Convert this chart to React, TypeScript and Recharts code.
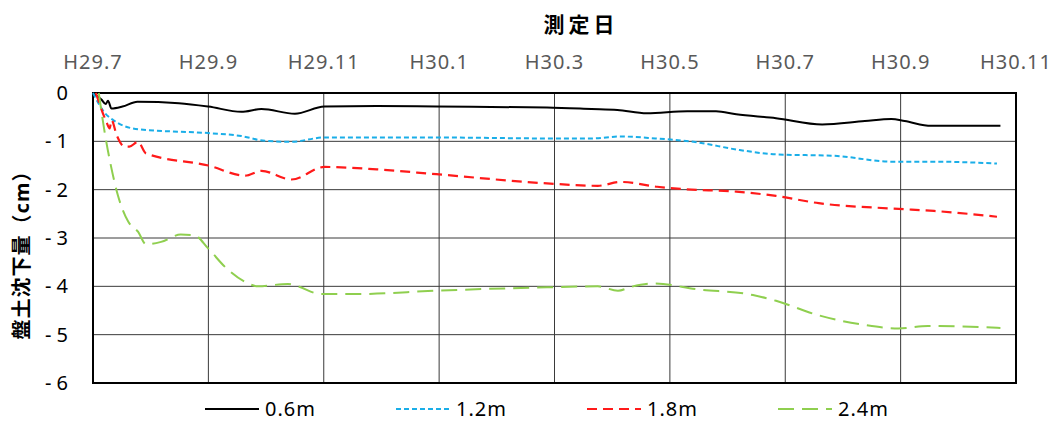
import { LineChart, Line, XAxis, YAxis, CartesianGrid, Legend, ReferenceArea } from 'recharts'

// x軸: H29.7 からの経過月数
const tickMonths = [0, 2, 4, 6, 8, 10, 12, 14, 16]
const tickLabels = ['H29.7', 'H29.9', 'H29.11', 'H30.1', 'H30.3', 'H30.5', 'H30.7', 'H30.9', 'H30.11']
const yTicks = [0, -1, -2, -3, -4, -5, -6]

// 0.6m
const months06 = [0, 0.15, 0.22, 0.26, 0.32, 0.51, 0.77, 1.49, 2.0, 2.57, 2.92, 3.5, 4.01, 4.92, 5.95, 7.87, 8.64, 9.09, 9.6, 10.3, 10.8, 11.15, 11.84, 12.64, 13.38, 13.84, 14.07, 14.53, 15.21, 15.73]
const values06 = [0, -0.14, -0.23, -0.16, -0.32, -0.28, -0.18, -0.21, -0.28, -0.39, -0.33, -0.43, -0.28, -0.27, -0.28, -0.3, -0.33, -0.35, -0.42, -0.38, -0.38, -0.44, -0.52, -0.65, -0.58, -0.54, -0.58, -0.68, -0.68, -0.68]

// 1.2m
const months12 = [0, 0.21, 0.35, 0.78, 2.0, 2.57, 2.98, 3.43, 4.01, 4.92, 5.95, 7.87, 8.64, 9.15, 9.75, 10.41, 11.21, 11.84, 12.86, 13.84, 14.58, 15.67]
const values12 = [0, -0.42, -0.56, -0.75, -0.83, -0.89, -0.99, -1.01, -0.92, -0.92, -0.92, -0.94, -0.94, -0.9, -0.94, -1.01, -1.18, -1.27, -1.3, -1.42, -1.42, -1.46]

// 1.8m
const months18 = [0.05, 0.23, 0.29, 0.32, 0.41, 0.55, 0.63, 0.78, 0.92, 2.0, 2.64, 2.92, 3.44, 4.01, 4.92, 5.95, 7.87, 8.75, 9.15, 9.78, 10.24, 11.15, 11.84, 12.58, 13.84, 14.58, 15.67]
const values18 = [0, -0.59, -0.73, -0.56, -0.87, -1.11, -1.11, -1.01, -1.25, -1.5, -1.71, -1.61, -1.79, -1.53, -1.58, -1.68, -1.87, -1.92, -1.84, -1.94, -1.99, -2.04, -2.13, -2.28, -2.39, -2.44, -2.56]

// 2.4m
const months24 = [0.1, 0.21, 0.32, 0.43, 0.61, 0.78, 0.92, 1.18, 1.52, 1.75, 2.0, 2.29, 2.64, 2.86, 3.38, 3.55, 3.95, 4.58, 5.95, 7.87, 8.75, 9.1, 9.33, 9.73, 10.47, 11.44, 11.84, 12.58, 13.38, 13.96, 14.47, 15.73]
const values24 = [0, -0.87, -1.56, -2.11, -2.66, -2.87, -3.13, -3.08, -2.93, -2.94, -3.22, -3.6, -3.91, -4.0, -3.95, -4.0, -4.16, -4.16, -4.09, -4.02, -4.0, -4.09, -4.01, -3.94, -4.06, -4.18, -4.3, -4.6, -4.8, -4.87, -4.82, -4.86]

const toPoints = (months: number[], values: number[]) =>
  months.map((m, i) => ({ m, v: values[i] }))

const series = [
  { name: '0.6m', data: toPoints(months06, values06), color: '#000000', dash: undefined, width: 2 },
  { name: '1.2m', data: toPoints(months12, values12), color: '#1aaee8', dash: '5 3', width: 2 },
  { name: '1.8m', data: toPoints(months18, values18), color: '#ff1a1a', dash: '10 6', width: 2.2 },
  { name: '2.4m', data: toPoints(months24, values24), color: '#8fcf4f', dash: '16 8', width: 2 }
]

const FONT = "'Noto Sans', 'Noto Sans CJK JP', sans-serif"

const LegendContent = () => (
  <div style={{ height: 38, paddingTop: 12, paddingLeft: 205, display: 'flex', boxSizing: 'border-box' }}>
    {series.map((s) => (
      <div key={s.name} style={{ width: 191, display: 'flex', alignItems: 'center', height: 28 }}>
        <svg width={54} height={10}>
          <line x1={0} y1={5} x2={54} y2={5} stroke={s.color} strokeWidth={s.width} strokeDasharray={s.dash} />
        </svg>
        <span style={{ marginLeft: 6, fontSize: 20, lineHeight: '28px', color: '#000', fontFamily: FONT, letterSpacing: 1, whiteSpace: 'nowrap' }}>
          {s.name}
        </span>
      </div>
    ))}
  </div>
)

export default function App() {
  return (
    <div style={{ position: 'absolute', left: 0, top: 0, width: 1057, height: 421, background: '#fff' }}>
      <div
        style={{
          position: 'absolute',
          left: 481,
          top: 8,
          width: 200,
          textAlign: 'center',
          fontSize: 21,
          fontWeight: 'bold',
          letterSpacing: 4,
          fontFamily: FONT,
          color: '#000'
        }}
      >
        測定日
      </div>
      <div
        style={{
          position: 'absolute',
          left: 22 - 120,
          top: 250 - 14,
          width: 240,
          height: 28,
          lineHeight: '28px',
          textAlign: 'center',
          transform: 'rotate(-90deg)',
          fontSize: 20,
          fontWeight: 'bold',
          letterSpacing: 1,
          fontFamily: FONT,
          color: '#000',
          zIndex: 1
        }}
      >
        盤土沈下量（cm）
      </div>
      <LineChart width={1057} height={421} margin={{ top: 40, right: 41, bottom: 0, left: 0 }}>
        <CartesianGrid stroke="#3a3a3a" strokeWidth={1} />
        <XAxis
          type="number"
          dataKey="m"
          orientation="top"
          domain={[0, 16]}
          ticks={tickMonths}
          tickFormatter={(v) => tickLabels[tickMonths.indexOf(v)] ?? ''}
          height={53}
          tickSize={0}
          tickMargin={24}
          axisLine={false}
          tick={{ fontSize: 20, fill: '#595959', fontFamily: FONT, letterSpacing: 1 }}
          allowDuplicatedCategory={false}
        />
        <YAxis
          type="number"
          dataKey="v"
          domain={[-6, 0]}
          ticks={yTicks}
          tickFormatter={(v) => (v === 0 ? '0' : `- ${Math.abs(v)}`)}
          width={93}
          tickSize={0}
          tickMargin={25}
          axisLine={false}
          tick={{ fontSize: 20, fill: '#000', fontFamily: FONT }}
        />
        <ReferenceArea x1={0} x2={16} y1={-6} y2={0} fill="none" fillOpacity={0} stroke="#000" strokeWidth={2} ifOverflow="visible" />
        {series.map((s) => (
          <Line
            key={s.name}
            data={s.data}
            dataKey="v"
            name={s.name}
            type="monotone"
            stroke={s.color}
            strokeWidth={s.width}
            strokeDasharray={s.dash}
            dot={false}
            activeDot={false}
            isAnimationActive={false}
          />
        ))}
        <Legend content={<LegendContent />} verticalAlign="bottom" wrapperStyle={{ left: 0, width: 1057 }} />
      </LineChart>
    </div>
  )
}
